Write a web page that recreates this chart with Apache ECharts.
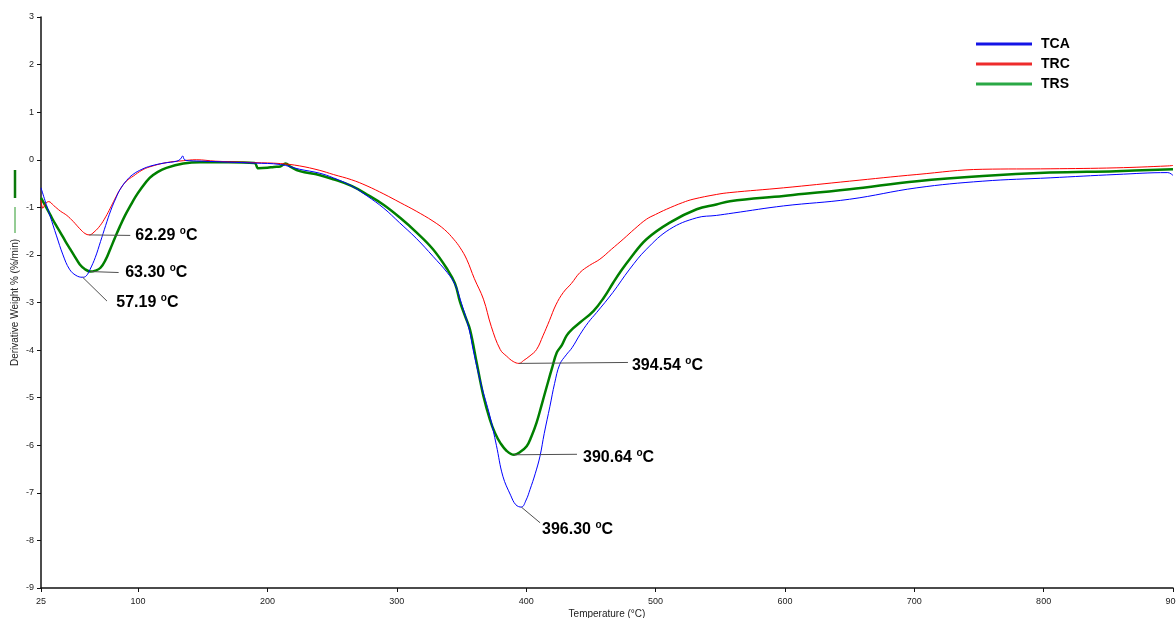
<!DOCTYPE html>
<html>
<head>
<meta charset="utf-8">
<title>DTG curves</title>
<script src="https://cdn.jsdelivr.net/npm/echarts@6/dist/echarts.min.js"></script>
<style>
  html, body { margin: 0; padding: 0; background: #ffffff; overflow: hidden; }
  #chart { width: 1176px; height: 618px; }
</style>
</head>
<body>
<div id="chart"></div>
<script>
// Derivative weight (%/min) against temperature (°C) for three samples
const seriesNames = ['TCA', 'TRC', 'TRS'];

const tcaTemp = [25, 28, 32, 37, 42, 47, 52, 57.19, 60, 63, 67, 71, 75, 79, 83, 86, 91, 96, 103, 110, 120, 130, 133, 134.5, 136, 140, 150, 170, 190, 210, 225, 240, 251, 265, 277, 290, 302, 315, 328, 339, 345, 349, 356, 359, 365, 372, 377, 382, 388, 392, 396.3, 400, 403, 407, 410.7, 414, 418.4, 422, 426, 431, 435.5, 441.7, 448, 454.5, 467, 480, 493, 511, 531.8, 547, 560, 599, 650, 702, 753, 805, 856, 896, 900];
const tcaVal  = [-0.59, -0.85, -1.18, -1.6, -2.0, -2.3, -2.43, -2.47, -2.44, -2.3, -2.05, -1.72, -1.38, -1.06, -0.8, -0.63, -0.44, -0.31, -0.2, -0.13, -0.07, -0.03, 0.02, 0.08, 0.0, -0.02, -0.03, -0.05, -0.07, -0.1, -0.2, -0.28, -0.38, -0.55, -0.76, -1.02, -1.32, -1.65, -2.03, -2.37, -2.62, -2.93, -3.57, -3.99, -4.7, -5.39, -6.0, -6.65, -7.05, -7.25, -7.3, -7.15, -6.93, -6.6, -6.23, -5.75, -5.18, -4.7, -4.3, -4.1, -3.95, -3.67, -3.42, -3.21, -2.79, -2.3, -1.88, -1.46, -1.22, -1.17, -1.12, -0.97, -0.83, -0.59, -0.45, -0.38, -0.31, -0.27, -0.33];

const trcTemp = [25, 26.5, 28.5, 31, 34.7, 40, 45, 50, 55, 59, 62.29, 66, 70.8, 75, 78.5, 82, 86.2, 91, 96.5, 103, 109, 122, 135, 145, 160, 190, 210, 225, 240, 251, 265, 277, 290, 302.6, 315, 328, 337, 344, 349, 354, 360, 367, 373, 380, 385, 390, 394.54, 398, 403, 408, 413, 418, 423, 428.7, 435, 441.6, 449, 457, 466, 475, 484, 493, 500, 508.5, 521, 529, 547, 557.5, 599, 650, 702, 753, 805, 856, 896, 900];
const trcVal  = [-0.85, -1.02, -0.92, -0.88, -0.96, -1.08, -1.17, -1.3, -1.45, -1.55, -1.58, -1.52, -1.38, -1.2, -1.02, -0.83, -0.62, -0.45, -0.34, -0.22, -0.15, -0.06, -0.02, 0.0, -0.03, -0.06, -0.08, -0.13, -0.22, -0.31, -0.42, -0.55, -0.72, -0.9, -1.08, -1.29, -1.47, -1.67, -1.85, -2.09, -2.5, -2.93, -3.5, -3.99, -4.13, -4.24, -4.28, -4.22, -4.12, -3.99, -3.7, -3.38, -3.05, -2.79, -2.6, -2.37, -2.22, -2.09, -1.88, -1.67, -1.45, -1.25, -1.15, -1.04, -0.9, -0.83, -0.73, -0.69, -0.59, -0.45, -0.31, -0.2, -0.19, -0.17, -0.13, -0.12];

const trsTemp = [25, 28, 32, 36, 40, 44, 47.6, 51, 55, 59, 63.3, 67, 71, 75, 78.5, 82, 86, 90, 94, 98, 102, 109, 115, 122, 135, 148, 170, 190, 193, 200, 205, 210, 214, 218, 225, 240, 251, 265, 277, 290, 302.6, 315, 328, 339, 345, 349, 353, 356.6, 362, 367, 372, 376, 380, 385, 390.64, 395, 400.4, 404, 408, 412, 416, 420, 423.7, 427.5, 431.4, 436, 441.6, 452, 460, 467.4, 473, 480, 493, 511, 531.8, 547, 557.5, 599, 650, 702, 753, 805, 856, 900];
const trsVal  = [-0.8, -0.95, -1.15, -1.35, -1.53, -1.72, -1.88, -2.03, -2.2, -2.3, -2.35, -2.33, -2.27, -2.1, -1.88, -1.65, -1.4, -1.17, -0.97, -0.78, -0.62, -0.38, -0.26, -0.17, -0.08, -0.05, -0.05, -0.07, -0.18, -0.17, -0.15, -0.14, -0.08, -0.15, -0.24, -0.32, -0.41, -0.55, -0.73, -0.95, -1.22, -1.52, -1.88, -2.3, -2.6, -3.0, -3.3, -3.57, -4.3, -4.97, -5.46, -5.75, -5.95, -6.12, -6.2, -6.15, -6.02, -5.82, -5.53, -5.15, -4.76, -4.38, -4.05, -3.9, -3.69, -3.55, -3.42, -3.18, -2.9, -2.58, -2.35, -2.09, -1.67, -1.32, -1.04, -0.94, -0.87, -0.76, -0.62, -0.45, -0.34, -0.27, -0.24, -0.2];

// Tick labels
const xTicks = [25, 100, 200, 300, 400, 500, 600, 700, 800, 900];
const yTicks = [-9, -8, -7, -6, -5, -4, -3, -2, -1, 0, 1, 2, 3];

// Peak temperatures that are called out, with the series each belongs to
const peakTemp   = [62.29, 63.30, 57.19, 394.54, 390.64, 396.30];
const peakSeries = ['TRC', 'TRS', 'TCA', 'TRC', 'TRS', 'TCA'];
// Where each callout's leader ends and its text begins (data units)
const leaderEnd = [[94.0, -1.59], [85.0, -2.37], [76.0, -2.97], [478.7, -4.26], [439.3, -6.19], [410.8, -7.63]];
const textAt    = [[97.9, -1.59], [90.1, -2.37], [83.2, -3.0], [481.8, -4.32], [444.0, -6.25], [412.3, -7.77]];

const colors = { TCA: '#0000ff', TRC: '#ff0000', TRS: '#008000' };
const widths = { TCA: 1, TRC: 1, TRS: 2.5 };
const legendColors = { TCA: '#1414e6', TRC: '#ee2b2b', TRS: '#2aa845' };

const temps = { TCA: tcaTemp, TRC: trcTemp, TRS: trsTemp };
const vals  = { TCA: tcaVal,  TRC: trcVal,  TRS: trsVal };

function pairs(name) {
  return temps[name].map((t, i) => [t, vals[name][i]]);
}
function valueAt(name, t) {
  const i = temps[name].indexOf(t);
  return vals[name][i];
}

const FONT = 'Arial, "Liberation Sans", Helvetica, sans-serif';

const curveSeries = ['TRS', 'TRC', 'TCA'].map(name => ({
  name: name,
  type: 'line',
  data: pairs(name),
  showSymbol: false,
  symbol: 'none',
  smooth: 0.4,
  lineStyle: { color: colors[name], width: widths[name], join: 'round' },
  itemStyle: { color: colors[name] },
  z: 3,
  silent: true
}));

const leaderSeries = peakTemp.map((t, k) => ({
  type: 'line',
  data: [[t, valueAt(peakSeries[k], t)], leaderEnd[k]],
  showSymbol: false,
  symbol: 'none',
  lineStyle: { color: '#505050', width: 1 },
  z: 4,
  silent: true
}));

const calloutSeries = {
  type: 'scatter',
  data: textAt.map((p, k) => ({ value: p, peak: peakTemp[k] })),
  symbolSize: 0,
  silent: true,
  z: 5,
  itemStyle: { opacity: 1 },
  label: {
    show: true,
    position: 'right',
    distance: 0,
    color: '#000',
    formatter: p => '{n|' + p.data.peak.toFixed(2) + ' }{s|o}{n|C}',
    rich: {
      n: { fontFamily: FONT, fontSize: 16, fontWeight: 'bold', color: '#000', lineHeight: 18 },
      s: { fontFamily: FONT, fontSize: 10, fontWeight: 'bold', color: '#000', lineHeight: 18, verticalAlign: 'top' }
    }
  }
};

const chart = echarts.init(document.getElementById('chart'), null, { renderer: 'canvas' });

chart.setOption({
  animation: false,
  backgroundColor: '#ffffff',
  grid: { left: 41, right: 3, top: 17, bottom: 30, containLabel: false, outerBoundsMode: 'none' },
  legend: {
    orient: 'vertical',
    left: 971,
    top: 32,
    itemWidth: 56,
    itemHeight: 3,
    itemGap: 6,
    icon: 'rect',
    textStyle: { fontFamily: FONT, fontSize: 14, fontWeight: 'bold', color: '#000', padding: [0, 0, 0, 4] },
    data: seriesNames.map(n => ({ name: n, itemStyle: { color: legendColors[n] } }))
  },
  xAxis: {
    type: 'value',
    min: 25,
    max: 900,
    name: 'Temperature (°C)',
    nameLocation: 'middle',
    nameGap: 21,
    nameMoveOverlap: false,
    nameTextStyle: { fontFamily: FONT, fontSize: 10, color: '#222' },
    axisLine: { show: true, onZero: false, lineStyle: { color: '#111', width: 1.5 } },
    axisTick: { show: true, length: 4, customValues: xTicks, lineStyle: { color: '#111' } },
    axisLabel: { customValues: xTicks, fontFamily: FONT, fontSize: 9, color: '#222', margin: 9 },
    splitLine: { show: false }
  },
  yAxis: {
    type: 'value',
    min: -9,
    max: 3,
    interval: 1,
    name: 'Derivative Weight % (%/min)',
    nameLocation: 'middle',
    nameRotate: 90,
    nameGap: 21,
    nameMoveOverlap: false,
    nameTextStyle: { fontFamily: FONT, fontSize: 10, color: '#222' },
    axisLine: { show: true, onZero: false, lineStyle: { color: '#111', width: 1.5 } },
    axisTick: { show: true, length: 4, lineStyle: { color: '#111' } },
    axisLabel: {
      fontFamily: FONT, fontSize: 9, color: '#222', margin: 7,
      customValues: yTicks
    },
    splitLine: { show: false }
  },
  graphic: [
    { type: 'line', shape: { x1: 15, y1: 170, x2: 15, y2: 198 }, style: { stroke: '#0a7a0a', lineWidth: 2.5 } },
    { type: 'line', shape: { x1: 15, y1: 207, x2: 15, y2: 233 }, style: { stroke: '#2a9a2a', lineWidth: 1 } }
  ],
  series: curveSeries.concat(leaderSeries, [calloutSeries])
});
</script>
</body>
</html>
